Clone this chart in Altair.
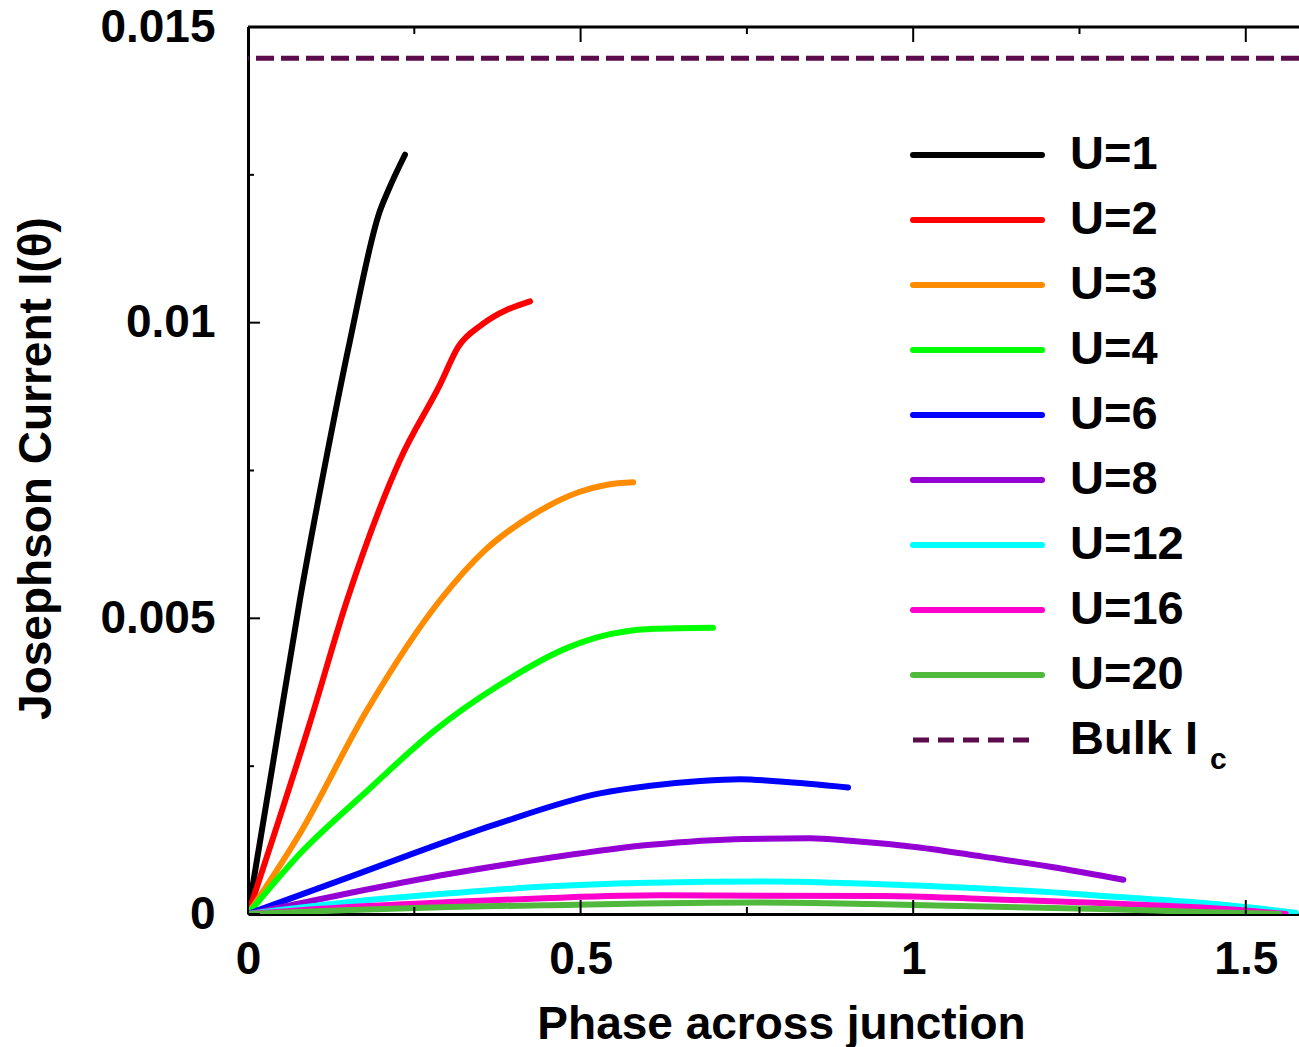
import altair as alt
import pandas as pd

# ---------------- data ----------------
series_labels = ["U=1", "U=2", "U=3", "U=4", "U=6", "U=8", "U=12", "U=16", "U=20"]
series_colors = ["#000000", "#ff0000", "#ff8c00", "#00ff00", "#0000ff",
                 "#9400d3", "#00ffff", "#ff00cc", "#50b83c"]

u1_phase = [0.0, 0.039, 0.078, 0.115, 0.153, 0.198, 0.211, 0.236]
u1_curr = [0.0, 0.00265, 0.00531, 0.00755, 0.00968, 0.01188, 0.01224, 0.01284]

u2_phase = [0.0, 0.093, 0.149, 0.229, 0.289, 0.316, 0.352, 0.424]
u2_curr = [0.0, 0.00323, 0.00531, 0.00769, 0.00896, 0.00959, 0.00997, 0.01036]

u3_phase = [0.0, 0.078, 0.179, 0.289, 0.356, 0.424, 0.499, 0.54, 0.579]
u3_curr = [0.0, 0.00136, 0.00345, 0.00531, 0.00615, 0.00672, 0.00714, 0.00726, 0.0073]

u4_phase = [0.0, 0.078, 0.179, 0.278, 0.379, 0.480, 0.529, 0.605, 0.699]
u4_curr = [0.0, 0.00102, 0.00208, 0.00308, 0.00388, 0.00450, 0.00469, 0.00482, 0.00484]

u6_phase = [0.0, 0.153, 0.304, 0.379, 0.529, 0.605, 0.680, 0.740, 0.800, 0.902]
u6_curr = [0.0, 0.000627, 0.00125, 0.00154, 0.00204, 0.00217, 0.00225, 0.00228, 0.00224, 0.00214]

u8_phase = [0.0, 0.153, 0.304, 0.454, 0.605, 0.747, 0.845, 0.905, 1.006, 1.105, 1.206, 1.316]
u8_curr = [0.0, 0.000356, 0.00068, 0.00095, 0.00117, 0.00127, 0.00128, 0.00124, 0.00113,
           0.00097, 0.0008, 0.00058]

u12_phase = [0.0, 0.153, 0.304, 0.454, 0.605, 0.785, 1.006, 1.105, 1.206, 1.281, 1.432, 1.507, 1.575]
u12_curr = [0.0, 0.000203, 0.00035, 0.00047, 0.00053, 0.00055, 0.00048, 0.00043,
            0.00037, 0.00031, 0.00019, 0.00011, 0.00002]

u16_phase = [0.0, 0.153, 0.304, 0.454, 0.620, 0.958, 1.105, 1.281, 1.386, 1.457, 1.522, 1.56]
u16_curr = [0.0, 0.000119, 0.000203, 0.000271, 0.000315, 0.000305, 0.000254, 0.000186,
            0.000136, 0.000095, 0.00004, 0.0]

u20_phase = [0.0, 0.153, 0.304, 0.454, 0.770, 0.935, 1.105, 1.281, 1.432, 1.55]
u20_curr = [0.0, 0.000068, 0.000119, 0.00015, 0.000195, 0.00017, 0.000125, 0.000085,
            0.000034, 0.0]

bulk_ic = 0.01447
bulk_label = "Bulk I"
bulk_sub = "c"

x_ticks_major = [0.0, 0.5, 1.0, 1.5]
x_ticks_minor = [0.25, 0.75, 1.25]
y_ticks_major = [0.0, 0.005, 0.01, 0.015]
y_ticks_minor = [0.0025, 0.0075, 0.0125]

# ---------------- build tables ----------------
all_phase = [u1_phase, u2_phase, u3_phase, u4_phase, u6_phase, u8_phase, u12_phase, u16_phase, u20_phase]
all_curr = [u1_curr, u2_curr, u3_curr, u4_curr, u6_curr, u8_curr, u12_curr, u16_curr, u20_curr]
rows = []
for k, (lab, xs, ys) in enumerate(zip(series_labels, all_phase, all_curr)):
    for i, (xv, yv) in enumerate(zip(xs, ys)):
        rows.append({"series": lab, "phase": xv, "current": yv, "idx": i, "k": k})
df = pd.DataFrame(rows)

W, H = 1051, 887
FONT = "Liberation Sans"
x_scale = alt.Scale(domain=[0, 1.58], nice=False, zero=False)
y_scale = alt.Scale(domain=[0, 0.015], nice=False, zero=False)

lines = alt.Chart(df).mark_line(strokeWidth=6, clip=True, strokeCap="round",
                                strokeJoin="round", interpolate="monotone").encode(
    x=alt.X("phase:Q", scale=x_scale,
            axis=alt.Axis(values=x_ticks_major, format=".1~f", title="Phase across junction",
                          titleFont=FONT, titleFontSize=46, titleFontWeight="bold",
                          titleColor="black", titleX=533, titleY=110,
                          titleBaseline="middle", titleAlign="center",
                          labelFont=FONT, labelFontSize=46, labelFontWeight="bold",
                          labelColor="black", labelPadding=23, labelFlush=False,
                          labelOverlap=False, ticks=False, tickSize=0, grid=False,
                          domainColor="black", domainWidth=3)),
    y=alt.Y("current:Q", scale=y_scale,
            axis=alt.Axis(values=y_ticks_major, format=".3~f", title="Josephson Current I(θ)",
                          titleFont=FONT, titleFontSize=46, titleFontWeight="bold",
                          titleColor="black", titleX=-212, titleY=441, titleAngle=270,
                          titleBaseline="middle", titleAlign="center",
                          labelFont=FONT, labelFontSize=46, labelFontWeight="bold",
                          labelColor="black", labelPadding=33, labelFlush=False,
                          labelOverlap=False, ticks=False, tickSize=0, grid=False,
                          domainColor="black", domainWidth=3)),
    color=alt.Color("series:N", scale=alt.Scale(domain=series_labels, range=series_colors),
                    legend=None),
    detail="series:N",
    order="idx:Q",
)

bulk = alt.Chart(pd.DataFrame({"ic": [bulk_ic]})).mark_rule(
    strokeDash=[18, 7], strokeWidth=5, color="#5c0b4c").encode(
    y=alt.Y("ic:Q", scale=y_scale, axis=None))

top_border = alt.Chart(pd.DataFrame({"a": [0]})).mark_rule(
    strokeWidth=3, color="black").encode(x=alt.value(0), x2=alt.value(W), y=alt.value(0))

def xticks(vals, y0, y1):
    return alt.Chart(pd.DataFrame({"t": vals})).mark_rule(strokeWidth=2, color="black").encode(
        x=alt.X("t:Q", scale=x_scale, axis=None), y=alt.value(y0), y2=alt.value(y1))

def yticks(vals, x0, x1):
    return alt.Chart(pd.DataFrame({"t": vals})).mark_rule(strokeWidth=2, color="black").encode(
        y=alt.Y("t:Q", scale=y_scale, axis=None), x=alt.value(x0), x2=alt.value(x1))

tick_layers = [
    xticks(x_ticks_major, H, H - 14), xticks(x_ticks_minor, H, H - 7),
    xticks(x_ticks_major, 0, 15), xticks(x_ticks_minor, 0, 7),
    yticks(y_ticks_major, 0, 12), yticks(y_ticks_minor, 0, 6),
]

# ---------------- manual legend ----------------
legend_keys = series_labels + ["Bulk"]
leg_y = alt.Scale(type="point", domain=legend_keys, range=[128, 713], padding=0)
leg_df = pd.DataFrame({"key": series_labels, "color": series_colors, "text": series_labels})

leg_lines = alt.Chart(leg_df).mark_rule(strokeWidth=6, strokeCap="round").encode(
    y=alt.Y("key:N", scale=leg_y, axis=None),
    x=alt.value(665), x2=alt.value(794),
    color=alt.Color("color:N", scale=None))

leg_text = alt.Chart(leg_df).mark_text(align="left", baseline="middle", font=FONT,
                                       fontSize=47, fontWeight="bold", color="black").encode(
    y=alt.Y("key:N", scale=leg_y, axis=None), x=alt.value(822), text="text:N")

bulk_df = pd.DataFrame({"key": ["Bulk"], "text": [bulk_label], "sub": [bulk_sub]})
leg_bulk_line = alt.Chart(bulk_df).mark_rule(strokeWidth=5, strokeDash=[16, 9],
                                             color="#5c0b4c").encode(
    y=alt.Y("key:N", scale=leg_y, axis=None), x=alt.value(665), x2=alt.value(785))
leg_bulk_text = alt.Chart(bulk_df).mark_text(align="left", baseline="middle", font=FONT,
                                             fontSize=47, fontWeight="bold", color="black").encode(
    y=alt.Y("key:N", scale=leg_y, axis=None), x=alt.value(822), text="text:N")
leg_bulk_sub = alt.Chart(bulk_df).mark_text(align="left", baseline="middle", font=FONT,
                                            fontSize=30, fontWeight="bold", color="black",
                                            dy=20).encode(
    y=alt.Y("key:N", scale=leg_y, axis=None), x=alt.value(962), text="sub:N")

chart = alt.layer(
    bulk, lines, *tick_layers, top_border,
    leg_lines, leg_text, leg_bulk_line, leg_bulk_text, leg_bulk_sub,
).resolve_scale(
    x="independent", y="independent", color="independent"
).properties(
    width=W, height=H,
    autosize=alt.AutoSizeParams(type="none"),
    padding={"left": 248, "top": 27, "right": 0, "bottom": 133},
    background="white",
).configure_view(stroke=None)

chart.save("out.html", embed_options={"renderer": "svg", "actions": False})
